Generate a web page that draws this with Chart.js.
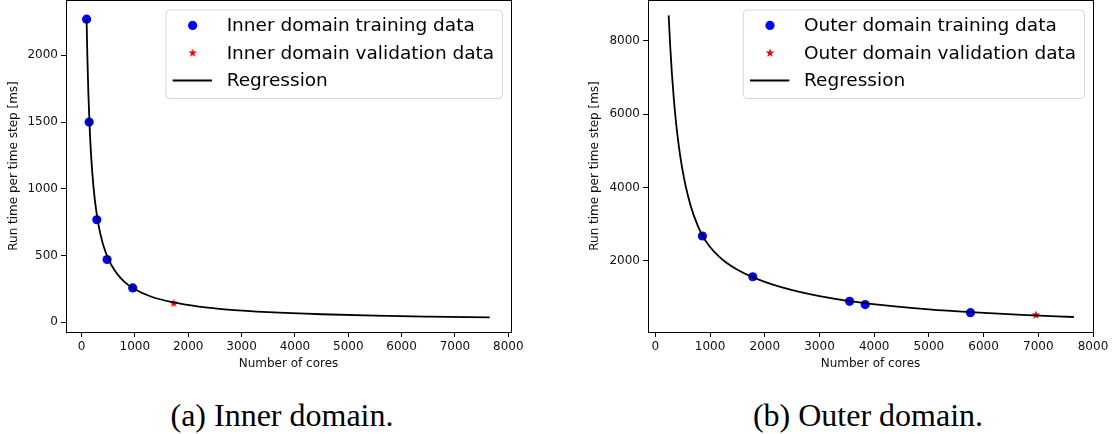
<!DOCTYPE html>
<html>
<head>
<meta charset="utf-8">
<script src="https://cdn.jsdelivr.net/npm/chart.js@4.4.1/dist/chart.umd.min.js"></script>
<style>
  body { margin: 0; background: #fff; width: 1115px; height: 434px; position: relative; overflow: hidden; }
  canvas { position: absolute; top: 0; }
  #innerChart { left: 0; }
  #outerChart { left: 557px; }
  .caption { position: absolute; top: 397px; width: 400px; text-align: center; line-height: 36px;
             font-family: "Liberation Serif", serif; font-size: 32px; color: #000; }
</style>
</head>
<body>
<canvas id="innerChart" width="557" height="380"></canvas>
<canvas id="outerChart" width="558" height="380"></canvas>
<div class="caption" style="left:82px">(a) Inner domain.</div>
<div class="caption" style="left:668px">(b) Outer domain.</div>

<script>
// Tick positions
const xTicks = [0, 1000, 2000, 3000, 4000, 5000, 6000, 7000, 8000];
const innerYTicks = [0, 500, 1000, 1500, 2000];
const outerYTicks = [2000, 4000, 6000, 8000];

// Inner domain measurements (cores, ms per step)
const innerTrainCores = [96, 144, 288, 480, 960];
const innerTrainTime = [2270, 1500, 768, 470, 257];
const innerValCores = [1728];
const innerValTime = [142];
const innerFitCores = [96, 110, 130, 160, 200, 250, 320, 400, 500, 650, 800, 1000, 1300, 1700, 2200, 2800, 3500, 4500, 5500, 6500, 7650];
const innerFitTime = [2270, 1995, 1704, 1400, 1134, 918, 727, 589, 477, 372, 305, 247, 193, 150, 117, 93, 76, 60, 49, 42, 36];

// Outer domain measurements
const outerTrainCores = [860, 1780, 3550, 3835, 5760];
const outerTrainTime = [2680, 1570, 900, 810, 590];
const outerValCores = [6955];
const outerValTime = [528];
const outerFitCores = [243, 270, 300, 340, 390, 450, 520, 600, 700, 859, 1000, 1150, 1300, 1500, 1779, 2000, 2300, 2635, 3000, 3547, 4200, 5000, 5757, 6700, 7650];
const outerFitTime = [8690, 7879, 7144, 6358, 5596, 4899, 4283, 3749, 3248, 2690, 2380, 2140, 1953, 1762, 1558, 1429, 1285, 1156, 1042, 908, 788, 679, 603, 530, 473];

const toPoints = (xs, ys) => xs.map((x, i) => ({ x: x, y: ys[i] }));

// filled five-pointed star used as a point marker
function starImage(color, outer, inner) {
  const size = Math.ceil(outer * 2) + 2;
  const c = document.createElement("canvas");
  c.width = c.height = size;
  const g = c.getContext("2d");
  g.beginPath();
  for (let i = 0; i < 10; i++) {
    const r = i % 2 ? inner : outer;
    const a = -Math.PI / 2 + i * Math.PI / 5;
    g.lineTo(size / 2 + r * Math.cos(a), size / 2 + r * Math.sin(a));
  }
  g.closePath();
  g.fillStyle = color;
  g.fill();
  return c;
}
const redStar = starImage("#ff0000", 4.6, 1.9);

// black frame round the plot area
const framePlugin = {
  id: "frame",
  afterDatasetsDraw(chart) {
    const { ctx, chartArea: a } = chart;
    ctx.save();
    ctx.strokeStyle = "#000";
    ctx.lineWidth = 1;
    ctx.strokeRect(Math.round(a.left) + 0.5, Math.round(a.top) + 0.5,
      Math.round(a.right - a.left), Math.round(a.bottom - a.top));
    ctx.restore();
  }
};

// legend box in the upper right corner of the plot
const boxLegendPlugin = {
  id: "boxLegend",
  afterDraw(chart) {
    const { ctx, chartArea: a } = chart;
    const sets = chart.data.datasets;
    const order = [1, 2, 0]; // training, validation, regression
    ctx.save();
    ctx.font = "18.5px 'DejaVu Sans'";
    const textW = Math.max(...order.map(i => ctx.measureText(sets[i].label).width));
    const w = 61 + textW + 8;
    const h = 88.5;
    const x0 = a.right - 8.5 - w;
    const y0 = a.top + 10;

    ctx.beginPath();
    ctx.roundRect(x0, y0, w, h, 4);
    ctx.fillStyle = "rgba(255,255,255,0.8)";
    ctx.fill();
    ctx.strokeStyle = "rgba(204,204,204,0.8)";
    ctx.lineWidth = 1;
    ctx.stroke();

    const rows = [15.4, 43, 70.4];
    order.forEach((idx, r) => {
      const ds = sets[idx];
      const cy = y0 + rows[r];
      const mx = x0 + 26.7;
      if (ds.showLine) {
        ctx.beginPath();
        ctx.moveTo(x0 + 6.7, cy);
        ctx.lineTo(x0 + 46, cy);
        ctx.strokeStyle = ds.borderColor;
        ctx.lineWidth = 2;
        ctx.stroke();
      } else if (ds.pointStyle === "circle") {
        ctx.beginPath();
        ctx.arc(mx, cy, ds.pointRadius, 0, Math.PI * 2);
        ctx.fillStyle = ds.backgroundColor;
        ctx.fill();
      } else {
        ctx.drawImage(ds.pointStyle, mx - ds.pointStyle.width / 2, cy - ds.pointStyle.height / 2);
      }
      ctx.fillStyle = "#000";
      ctx.textBaseline = "middle";
      ctx.textAlign = "left";
      ctx.fillText(ds.label, x0 + 60.7, cy + 1);
    });
    ctx.restore();
  }
};

Chart.defaults.font.family = "'DejaVu Sans'";
Chart.defaults.font.size = 12;
Chart.defaults.color = "#111";

function makeChart(canvas, opts) {
  return new Chart(canvas.getContext("2d"), {
    type: "scatter",
    data: {
      datasets: [
        {
          label: "Regression",
          data: opts.fit,
          showLine: true,
          borderColor: "#000",
          borderWidth: 1.8,
          pointRadius: 0,
          cubicInterpolationMode: "monotone",
          order: 0
        },
        {
          label: opts.name + " domain training data",
          data: opts.train,
          pointStyle: "circle",
          pointRadius: 4.6,
          backgroundColor: "#0000ff",
          borderWidth: 0,
          order: 1
        },
        {
          label: opts.name + " domain validation data",
          data: opts.val,
          pointStyle: redStar,
          order: 2
        }
      ]
    },
    options: {
      animation: false,
      responsive: false,
      events: [],
      clip: false,
      layout: { autoPadding: false, padding: { top: 0, right: opts.padRight, left: 0, bottom: 0 } },
      plugins: { legend: { display: false }, tooltip: { enabled: false } },
      scales: {
        x: {
          type: "linear",
          min: opts.xMin,
          max: opts.xMax,
          afterBuildTicks: (axis) => { axis.ticks = xTicks.map(v => ({ value: v })); },
          afterFit: (axis) => { axis.height = 48; axis.paddingLeft = 0; axis.paddingRight = 0; },
          ticks: { callback: (v) => String(v), maxRotation: 0, padding: 3, color: "#111" },
          grid: { drawOnChartArea: false, drawTicks: true, tickLength: 5, tickColor: "#000" },
          border: { display: false },
          title: { display: true, text: "Number of cores", color: "#111", font: { size: 12 },
                   padding: { top: 0, bottom: 9 } }
        },
        y: {
          type: "linear",
          min: opts.yMin,
          max: opts.yMax,
          afterBuildTicks: (axis) => { axis.ticks = opts.yTicks.map(v => ({ value: v })); },
          afterFit: (axis) => { axis.width = opts.yWidth; axis.paddingTop = 0; axis.paddingBottom = 0; },
          ticks: { callback: (v) => String(v), padding: 3, color: "#111" },
          grid: { drawOnChartArea: false, drawTicks: true, tickLength: 5, tickColor: "#000" },
          border: { display: false },
          title: { display: true, text: "Run time per time step [ms]", color: "#111", font: { size: 12 },
                   padding: { top: opts.titlePad, bottom: 4 } }
        }
      }
    },
    plugins: [framePlugin, boxLegendPlugin]
  });
}

makeChart(document.getElementById("innerChart"), {
  name: "Inner",
  fit: toPoints(innerFitCores, innerFitTime),
  train: toPoints(innerTrainCores, innerTrainTime),
  val: toPoints(innerValCores, innerValTime),
  xMin: -290, xMax: 8050,
  yMin: -73, yMax: 2414,
  yTicks: innerYTicks,
  yWidth: 66,
  padRight: 46,
  titlePad: 7
});

makeChart(document.getElementById("outerChart"), {
  name: "Outer",
  fit: toPoints(outerFitCores, outerFitTime),
  train: toPoints(outerTrainCores, outerTrainTime),
  val: toPoints(outerValCores, outerValTime),
  xMin: -135, xMax: 8000,
  yMin: 64, yMax: 9110,
  yTicks: outerYTicks,
  yWidth: 91,
  padRight: 22,
  titlePad: 31
});
</script>
</body>
</html>
